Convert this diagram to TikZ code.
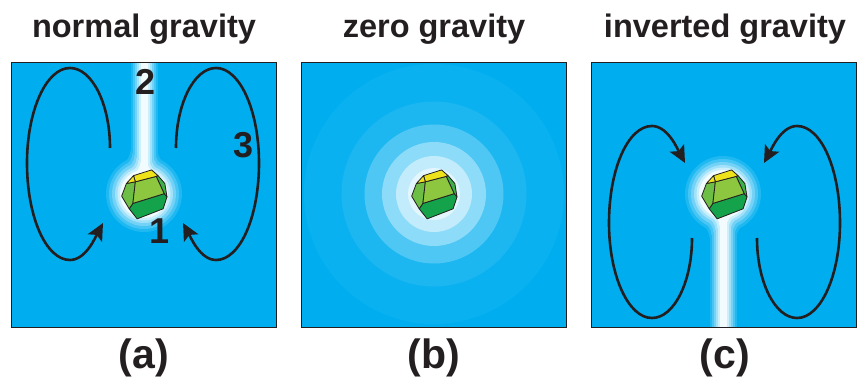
\documentclass[tikz,border=0pt]{standalone}
\usepackage{fontspec}
\setmainfont{Liberation Sans}
\usetikzlibrary{arrows.meta}
\definecolor{water}{HTML}{00AEEF}
\definecolor{ink}{HTML}{231F20}
\definecolor{fyellow}{HTML}{EEE31B}
\definecolor{ffront}{HTML}{8DC63F}
\definecolor{fleft}{HTML}{6CBE45}
\definecolor{fright}{HTML}{3DB049}
\definecolor{fbottom}{HTML}{14A24A}
\tikzset{
  panel/.style={draw=ink, line width=1pt},
  flow/.style={draw=ink, line width=2.6pt,
    -{Stealth[length=17pt,width=16pt,inset=3.5pt]}},
  title/.style={font=\bfseries\fontsize{32.5}{36}\selectfont, text=ink,
    anchor=base, inner sep=0pt},
  tag/.style={font=\bfseries\fontsize{41}{44}\selectfont, text=ink,
    anchor=base, inner sep=0pt},
  num/.style={font=\bfseries\fontsize{36}{40}\selectfont, text=ink,
    anchor=base, inner sep=0pt},
  facet/.style={draw=ink, line width=0.8pt, line join=round},
  crystal/.pic={
    % rhombic crystal seen from slightly above
    \filldraw[facet, fill=fbottom] (-10.3,8.7) -- (18.7,-0.3) -- (21.3,2.7)
      -- (17.7,13.7) -- (-6.3,23) -- (-13.7,13.7) -- cycle;
    \filldraw[facet, fill=fright] (13,-17) -- (19.3,-9.7) -- (21.3,2.7)
      -- (18.7,-0.3) -- (11.3,-16.3) -- cycle;
    \filldraw[facet, fill=fleft] (-16.3,-9.7) -- (-8,-11.3) -- (-10.3,8.7)
      -- (-13.7,13.7) -- (-20.7,2) -- cycle;
    \filldraw[facet, fill=ffront] (-8,-11.3) -- (11.3,-16.3) -- (18.7,-0.3)
      -- (-10.3,8.7) -- cycle;
    \filldraw[facet, fill=fyellow] (-9.7,-17) -- (7,-22.3) -- (13,-17)
      -- (11.3,-16.3) -- (-8,-11.3) -- cycle;
    \filldraw[facet, fill=fyellow] (-16.3,-9.7) -- (-9.7,-17) -- (-8,-11.3) -- cycle;
  }
}
% glow around the crystal at (#1,#2) with a plume running to y = #3;
% #4 is the plume direction (-1 upwards, 1 downwards)
\newcommand\plume[4]{%
  \foreach \r/\w/\m in {38/13.5/12, 35/11.5/28, 32/9.5/45, 29/7.5/63, 26.5/5.5/80, 24/3.5/95}{
    \pgfmathsetmacro\ya{#2+(#4)*(sqrt(\r*\r-\w*\w)+8)}
    \pgfmathsetmacro\yb{#2+(#4)*(sqrt(\r*\r-\w*\w)+3)}
    \pgfmathsetmacro\yc{#2+(#4)*sqrt(\r*\r-(\w+8)*(\w+8))}
    \fill[white!\m!water] (#1,#2) circle[radius=\r];
    \fill[white!\m!water] (#1-\w,#2) rectangle (#1+\w,#3);
    \fill[white!\m!water] (#1-\w,\ya) .. controls (#1-\w,\yb) and (#1-\w-4,\yc)
      .. (#1-\w-8,\yc) -- (#1+\w+8,\yc) .. controls (#1+\w+4,\yc) and (#1+\w,\yb)
      .. (#1+\w,\ya) -- cycle;
  }}
% one circulation loop, drawn for the lower left quarter
\newcommand\loopflow{%
  \draw[flow] (110,148) .. controls (110,104) and (92,68) .. (70,68)
    .. controls (46,68) and (27,111) .. (27,163)
    .. controls (27,217) and (46,260) .. (70,260)
    .. controls (86,260) and (96,236) .. (103,223);}
\begin{document}
\begin{tikzpicture}[x=1pt,y=-1pt]
\useasboundingbox (0,0) rectangle (857,380);

% ---- (a) normal gravity ----
\fill[water] (11.5,62) rectangle (276.5,327);
\plume{144}{194}{62}{-1}
\draw[panel] (11.5,62) rectangle (276.5,327);
\loopflow
\begin{scope}[shift={(286,0)}, xscale=-1]\loopflow\end{scope}
\pic[scale=1.08] at (144,194) {crystal};
\node[num] (n2) at (146,94) {2};
\node[num] (n3) at (243.5,157) {3};
\node[num] (n1) at (160,243) {1};

% ---- (b) zero gravity ----
\fill[water] (301.5,62) rectangle (566.5,327);
\begin{scope}
  \clip (301.5,62) rectangle (566.5,327);
  \foreach \r/\m in {130/4, 92.5/11, 69.5/31, 52/55, 38/76, 26/89}
    \fill[white!\m!water] (434,194) circle[radius=\r];
\end{scope}
\draw[panel] (301.5,62) rectangle (566.5,327);
\pic[scale=1.08] at (434,194) {crystal};

% ---- (c) inverted gravity ----
\fill[water] (591.5,62) rectangle (856.5,327);
\plume{723}{194}{327}{1}
\draw[panel] (591.5,62) rectangle (856.5,327);
\begin{scope}[shift={(582,386)}, yscale=-1]\loopflow\end{scope}
\begin{scope}[shift={(867,386)}, scale=-1]\loopflow\end{scope}
\pic[scale=1.08] at (724,194) {crystal};

% ---- titles and tags ----
\node[title] (ta) at (144,37) {normal gravity};
\node[title] (tb) at (434,37) {zero gravity};
\node[title] (tc) at (725,37) {inverted gravity};
\node[tag] (la) at (144,368) {(a)};
\node[tag] (lb) at (434,368) {(b)};
\node[tag] (lc) at (725,368) {(c)};
\end{tikzpicture}
\end{document}
